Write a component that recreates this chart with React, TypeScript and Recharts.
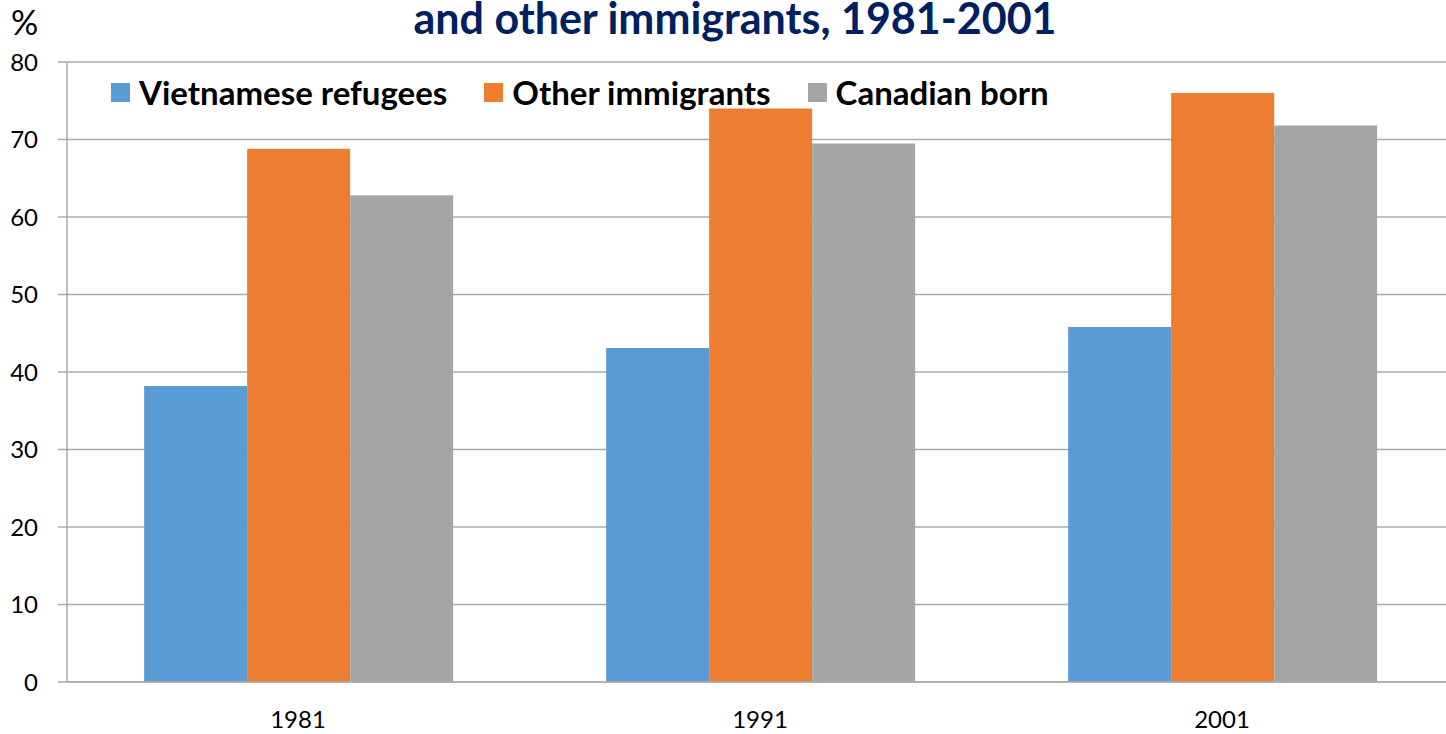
import React from "react";
import { BarChart, Bar, XAxis, YAxis, CartesianGrid, Legend } from "recharts";

const years = ["1981", "1991", "2001"];
const vietnameseRefugees = [38.2, 43.1, 45.8];
const otherImmigrants = [68.8, 74.0, 76.0];
const canadianBorn = [62.8, 69.5, 71.8];
const yTicks = [0, 10, 20, 30, 40, 50, 60, 70, 80];
const boundaryTicks = [0, 1, 2, 3];

const seriesNames = ["Vietnamese refugees", "Other immigrants", "Canadian born"];
const seriesKeys = ["vr", "oi", "cb"];
const seriesColors = ["#5B9BD5", "#ED7D31", "#A5A5A5"];

const data = years.map((y, i) => ({
  year: y,
  vr: vietnameseRefugees[i],
  oi: otherImmigrants[i],
  cb: canadianBorn[i],
}));

const FONT = "Lato, 'Open Sans', sans-serif";
const GRID = "#ABABAB";

const renderLegend = () => (
  <div style={{ display: "flex", alignItems: "center", fontFamily: FONT, whiteSpace: "nowrap" }}>
    {seriesNames.map((n, i) => (
      <div key={n} style={{ display: "flex", alignItems: "center", marginRight: 37 }}>
        <div style={{ width: 19, height: 19, background: seriesColors[i], marginRight: 9 }} />
        <span style={{ fontSize: 33, fontWeight: 700, color: "#000", lineHeight: "36px" }}>{n}</span>
      </div>
    ))}
  </div>
);

export default function App() {
  return (
    <div style={{ position: "absolute", left: 0, top: 0, width: 1446, height: 734, overflow: "hidden", background: "#fff" }}>
      <BarChart
        width={1453}
        height={734}
        data={data}
        margin={{ top: 62, right: 0, left: 0, bottom: 0 }}
        barCategoryGap="16.7%"
        barGap={0}
      >
        <CartesianGrid vertical={false} stroke={GRID} strokeWidth={1.5} />
        <XAxis
          xAxisId="bounds"
          type="number"
          domain={[0, 3]}
          ticks={boundaryTicks}
          tick={false}
          tickSize={9}
          height={0}
          axisLine={false}
          tickLine={{ stroke: GRID, strokeWidth: 1.5 }}
        />
        <XAxis
          dataKey="year"
          height={52}
          tickLine={false}
          tickSize={0}
          tickMargin={29}
          axisLine={{ stroke: GRID, strokeWidth: 1.5 }}
          tick={{ fill: "#000", fontSize: 24, fontFamily: FONT }}
        />
        <YAxis
          domain={[0, 80]}
          ticks={yTicks}
          width={67}
          tickSize={9}
          tickMargin={20}
          interval={0}
          axisLine={{ stroke: GRID, strokeWidth: 1.5 }}
          tickLine={{ stroke: GRID, strokeWidth: 1.5 }}
          tick={{ fill: "#000", fontSize: 24, fontFamily: FONT }}
        />
        <Legend
          content={renderLegend}
          layout="horizontal"
          verticalAlign="middle"
          align="center"
          wrapperStyle={{ position: "absolute", top: 74, left: 111, width: "auto", height: "auto" }}
        />
        {seriesKeys.map((k, i) => (
          <Bar key={k} dataKey={k} name={seriesNames[i]} fill={seriesColors[i]} isAnimationActive={false} />
        ))}
      </BarChart>
      <svg width={1446} height={60} style={{ position: "absolute", left: 0, top: 0, pointerEvents: "none" }}>
        <text x={11} y={35} fontSize={34} fontFamily={FONT} fill="#000">%</text>
        <text x={735} y={34} textAnchor="middle" fontSize={43} fontWeight={700} fontFamily={FONT} fill="#002060">
          and other immigrants, 1981-2001
        </text>
      </svg>
    </div>
  );
}
